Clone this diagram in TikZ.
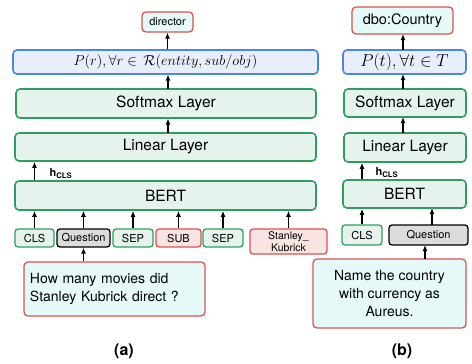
\documentclass[tikz,border=0pt]{standalone}
\usepackage{amsmath,amssymb}
\usepackage{fontspec}
\setmainfont{TeX Gyre Heros}
\usetikzlibrary{calc,arrows.meta}

\definecolor{grnline}{RGB}{46,158,96}
\definecolor{grnfill}{RGB}{229,243,236}
\definecolor{bluline}{RGB}{74,134,232}
\definecolor{blufill}{RGB}{232,238,252}
\definecolor{redline}{RGB}{217,83,79}
\definecolor{cyanfill}{RGB}{229,250,248}
\definecolor{pinkfill}{RGB}{249,228,228}
\definecolor{gryfill}{RGB}{220,220,220}

\begin{document}
\begin{tikzpicture}[x=1pt,y=-1pt,
	layer/.style={draw=grnline,fill=grnfill,line width=1.6pt,rounded corners=4pt,inner sep=0pt,font=\fontsize{15.5}{18}\selectfont},
	prob/.style={draw=bluline,fill=blufill,line width=1.6pt,rounded corners=4pt,inner sep=0pt,font=\fontsize{14}{16}\selectfont},
	outbox/.style={draw=redline,fill=cyanfill,line width=1.3pt,rounded corners=4pt,inner sep=0pt},
	tok/.style={draw=grnline,fill=grnfill,line width=1.3pt,rounded corners=3pt,inner sep=0pt,minimum height=18pt,font=\fontsize{11}{13}\selectfont},
	enttok/.style={tok,draw=redline,fill=pinkfill},
	qtok/.style={tok,draw=black,fill=gryfill},
	arr/.style={-{Latex[length=6pt,width=5pt]},line width=1.4pt}]
	\useasboundingbox (0,0) rectangle (472,364);
	%% panel (a): stack placed by hand
	\node[outbox,minimum width=51pt,minimum height=20pt,font=\fontsize{11}{13}\selectfont] (dir) at (167.5,22){director};
	\node[prob,minimum width=305pt,minimum height=24pt] (pr) at (165.5,62){$P(r),\forall r\in\,\mathcal{R}(entity,sub/obj)$};
	\node[layer,minimum width=300pt,minimum height=29pt] (soa) at (166,103.5){Softmax Layer};
	\node[layer,minimum width=301pt,minimum height=28pt] (lina) at (165.5,147){Linear Layer};
	\node[layer,minimum width=301pt,minimum height=29pt] (berta) at (165.5,195.5){BERT};
	%% input tokens of (a)
	\node[tok,minimum width=39pt] (clsa) at (34.5,238){CLS};
	\node[qtok,minimum width=53pt] (qa) at (83.5,238){Question};
	\node[tok,minimum width=40pt] (sepa) at (133,238){SEP};
	\node[enttok,minimum width=45pt] (suba) at (178.5,238){SUB};
	\node[tok,minimum width=40pt] (sepb) at (223,238){SEP};
	\node[enttok,minimum width=77pt,minimum height=25pt,align=center,font=\fontsize{10.5}{12.5}\selectfont] (ent) at (288.5,241.5){Stanley\_\\Kubrick};
	\node[outbox,minimum width=181pt,minimum height=54pt,text width=169pt,align=left,font=\fontsize{14}{17.5}\selectfont] (texta) at (114.5,289){How many movies did\\Stanley Kubrick direct ?};
	\node[font=\bfseries\fontsize{16}{19}\selectfont] (capa) at (124,351){(a)};
	%% arrows of (a)
	\foreach \t in {clsa,qa,sepa,suba,sepb,ent}{
		\draw[arr] (\t.north) -- (\t |- berta.south);
		}
	\draw[arr] (qa |- texta.north) -- (qa.south);
	\draw[arr] (clsa |- berta.north) -- (clsa |- lina.south);
	\node[font=\fontsize{11}{13}\selectfont,anchor=west] (hcla) at (46,174){\textbf{h}$_{\textbf{CLS}}$};
	\draw[arr] (168,132.5) -- (168,118.5);
	\draw[arr] (168,89) -- (168,74.5);
	\draw[arr] (dir |- pr.north) -- (dir.south);

	%% panel (b)
	\node[outbox,minimum width=101pt,minimum height=27pt,font=\fontsize{14.5}{17}\selectfont] (dbo) at (402.5,20.5){dbo:Country};
	\node[prob,minimum width=123pt,minimum height=24pt,font=\fontsize{16}{18}\selectfont] (pt) at (404.5,62){$P(t),\forall t\in T$};
	\node[layer,minimum width=122pt,minimum height=28pt] (sob) at (405,103){Softmax Layer};
	\node[layer,minimum width=122pt,minimum height=29pt] (linb) at (405,147.5){Linear Layer};
	\node[layer,minimum width=123pt,minimum height=28pt] (bertb) at (404.5,194){BERT};
	\node[tok,minimum width=40pt,minimum height=20pt] (clsb) at (362,235){CLS};
	\node[qtok,minimum width=79pt,minimum height=20pt] (qb) at (428.5,235){Question};
	\node[outbox,minimum width=153pt,minimum height=69pt,align=center,font=\fontsize{14}{18}\selectfont] (textb) at (389.5,293.5){Name the country\\with currency as\\Aureus.};
	\node[font=\bfseries\fontsize{16}{19}\selectfont] (capb) at (402,351){(b)};
	%% arrows of (b)
	\draw[arr] (clsb.north) -- (clsb |- bertb.south);
	\draw[arr] (432,225) -- (432,208);
	\draw[arr] (425,259) -- (425,245);
	\draw[arr] (clsb |- bertb.north) -- (clsb |- linb.south);
	\node[font=\fontsize{11}{13}\selectfont,anchor=west] (hclb) at (372,173){\textbf{h}$_{\textbf{CLS}}$};
	\draw[arr] (403,133) -- (403,117);
	\draw[arr] (403,89) -- (403,74);
	\draw[arr] (403,50) -- (403,34);
\end{tikzpicture}
\end{document}
